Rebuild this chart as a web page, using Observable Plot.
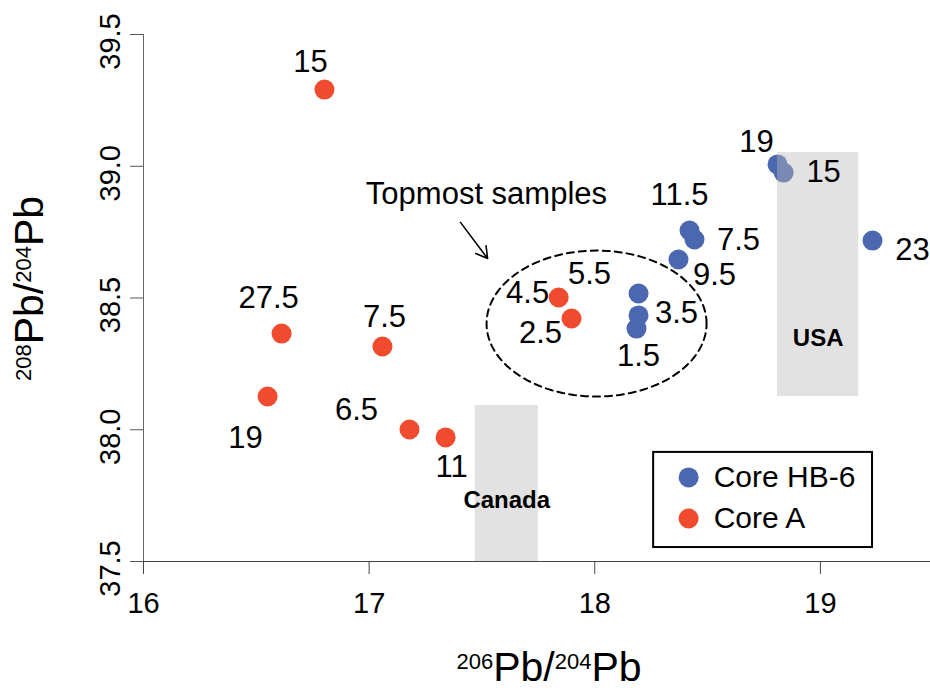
<!DOCTYPE html>
<html><head><meta charset="utf-8">
<script src="https://cdn.jsdelivr.net/npm/d3@7"></script>
<script src="https://cdn.jsdelivr.net/npm/@observablehq/plot@0.6"></script>
<style>body{margin:0;background:#fff} #chart svg{display:block}</style>
</head><body><div id="chart"></div>
<script>
// ---- data ----
const seriesNames = ["Core HB-6", "Core A"];
const seriesColors = ["#4B67B0", "#F04B2F"];

const hbDepth = ["1.5", "3.5", "5.5", "7.5", "9.5", "11.5", "19", "15", "23"];
const hb206 = [18.185, 18.194, 18.194, 18.442, 18.371, 18.420, 18.810, 18.837, 19.231];
const hb208 = [38.384, 38.434, 38.517, 38.722, 38.646, 38.756, 39.007, 38.976, 38.718];

const aDepth = ["2.5", "4.5", "6.5", "7.5", "11", "15", "19", "27.5"];
const a206 = [17.897, 17.840, 17.179, 17.059, 17.339, 16.802, 16.550, 16.612];
const a208 = [38.422, 38.502, 38.001, 38.316, 37.971, 39.291, 38.126, 38.365];

const regionNames = ["USA", "Canada"];
const region206lo = [18.81, 17.47];
const region206hi = [19.17, 17.75];
const region208lo = [38.126, 37.5];
const region208hi = [39.052, 38.092];

const xTicks = [16, 17, 18, 19];
const yTicks = [37.5, 38.0, 38.5, 39.0, 39.5];

// ---- label offsets (pixels) ----
const hbOff = {"1.5":[2,28],"3.5":[38,-2],"5.5":[-49,-19],"7.5":[44,1],"9.5":[36,16],"11.5":[-10,-35],"19":[-21,-22],"15":[40,0],"23":[40,10]};
const aOff = {"2.5":[-31,15],"4.5":[-31,-4],"6.5":[-53,-19],"7.5":[2,-29],"11":[6,30],"15":[-14,-27],"19":[-22,42],"27.5":[-13,-35]};

const hb = hbDepth.map((d, i) => ({depth: d, x: hb206[i], y: hb208[i]}));
const ca = aDepth.map((d, i) => ({depth: d, x: a206[i], y: a208[i]}));
const regions = regionNames.map((n, i) => ({name: n, x1: region206lo[i], x2: region206hi[i], y1: region208lo[i], y2: region208hi[i]}));
const regionLabelY = {"USA": 38.346, "Canada": 37.731};

// annotation ellipse around topmost samples
const ell = {cx: 18.008, cy: 38.403, rx: 0.4876, ry: 0.277};
const ellPts = d3.range(0, 361, 3).map(a => {
  const t = a * Math.PI / 180;
  return {x: ell.cx + ell.rx * Math.cos(t), y: ell.cy + ell.ry * Math.sin(t)};
});

const FONT = "'Liberation Sans', Arial, Helvetica, sans-serif";

function supRender(parts, big, small, shift) {
  return (index, scales, values, dims, ctx, next) => {
    const g = next(index, scales, values, dims, ctx);
    d3.select(g).selectAll("text").each(function () {
      const t = d3.select(this);
      t.text(null);
      let up = false;
      for (const [s, sup] of parts) {
        const sp = t.append("tspan").text(s).attr("font-size", sup ? small : big);
        if (sup && !up) { sp.attr("dy", -shift); up = true; }
        else if (!sup && up) { sp.attr("dy", shift); up = false; }
      }
    });
    return g;
  };
}

const labelMarks = [
  ...hb.map(d => Plot.text([d], {x: "x", y: "y", text: "depth", dx: hbOff[d.depth][0], dy: hbOff[d.depth][1], fontSize: 31, fill: "black"})),
  ...ca.map(d => Plot.text([d], {x: "x", y: "y", text: "depth", dx: aOff[d.depth][0], dy: aOff[d.depth][1], fontSize: 31, fill: "black"}))
];

const legendY = [37.819, 37.663];

const plot = Plot.plot({
  width: 930, height: 688,
  marginLeft: 143, marginRight: 0, marginTop: 34, marginBottom: 127,
  x: {domain: [16, 19.488]},
  y: {domain: [37.5, 39.5]},
  style: {fontFamily: FONT, background: "#fff", overflow: "visible"},
  marks: [
    // ticks
    Plot.axisX({ticks: xTicks, tickSize: 13, tickFormat: () => "", label: null, stroke: "#444"}),
    Plot.axisY({ticks: yTicks, tickSize: 13, tickFormat: () => "", label: null, stroke: "#555"}),
    Plot.ruleX([16], {y1: 37.5, y2: 39.5, stroke: "#666"}),
    Plot.ruleY([37.5], {x1: 16, x2: 19.488, stroke: "#444", strokeWidth: 1.2}),
    Plot.text(xTicks, {x: d => d, y: 37.5, text: d => String(d), dy: 42, fontSize: 29, fill: "black"}),
    Plot.text(yTicks, {x: 16, y: d => d, text: d => d.toFixed(1), dx: -33, dy: 7, rotate: -90, fontSize: 29, fill: "black"}),
    // data
    Plot.dot(ca, {x: "x", y: "y", r: 10, fill: seriesColors[1]}),
    Plot.dot(hb, {x: "x", y: "y", r: 10, fill: seriesColors[0]}),
    // regions (semi-transparent, drawn over points)
    Plot.rect(regions, {x1: "x1", x2: "x2", y1: "y1", y2: "y2", fill: "#b9baba", fillOpacity: 0.42}),
    Plot.text(regions, {x: d => (d.x1 + d.x2) / 2, y: d => regionLabelY[d.name], text: "name", fontSize: 24, fontWeight: "bold", fill: "black"}),
    // annotation
    Plot.line(ellPts, {x: "x", y: "y", stroke: "black", strokeWidth: 2, strokeDasharray: "7,5"}),
    Plot.arrow([0], {x1: 17.405, y1: 38.787, x2: 17.525, y2: 38.65, stroke: "black", strokeWidth: 1.6, headLength: 12}),
    Plot.text(["Topmost samples"], {x: 17.52, y: 38.893, text: d => d, fontSize: 31, fill: "black"}),
    ...labelMarks,
    // legend
    Plot.rect([0], {x1: 18.261, x2: 19.231, y1: 37.553, y2: 37.914, fill: "white", stroke: "black", strokeWidth: 2}),
    Plot.dot(seriesNames, {x: 18.416, y: (d, i) => legendY[i], r: 10, fill: (d, i) => seriesColors[i]}),
    Plot.text(seriesNames, {x: 18.527, y: (d, i) => legendY[i], text: d => d, textAnchor: "start", fontSize: 30, fill: "black"}),
    // axis titles
    Plot.text(["Pb/Pb"], {frameAnchor: "bottom", text: d => d, textAnchor: "middle", dx: 12, dy: 119, lineAnchor: "bottom", fontSize: 41, fill: "black",
      render: supRender([["206", true], ["Pb/", false], ["204", true], ["Pb", false]], 41, 22, 12)}),
    Plot.text(["Pb/Pb"], {frameAnchor: "left", text: d => d, textAnchor: "middle", dx: -101, dy: -9.5, rotate: -90, lineAnchor: "bottom", fontSize: 41, fill: "black",
      render: supRender([["208", true], ["Pb/", false], ["204", true], ["Pb", false]], 41, 22, 12)})
  ]
});
document.getElementById("chart").appendChild(plot);
</script>
</body></html>
